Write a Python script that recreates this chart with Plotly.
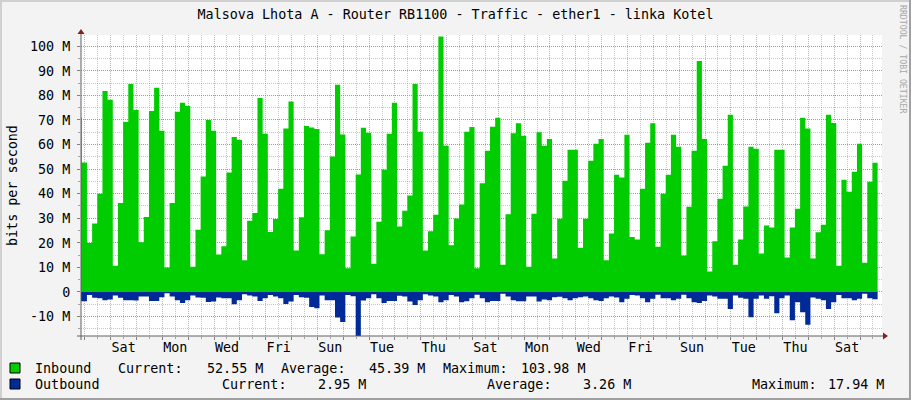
import plotly.graph_objects as go

# ---------------- data ----------------
TITLE = "Malsova Lhota A - Router RB1100 - Traffic - ether1 - linka Kotel"
Y_TITLE = "bits per second"
WATERMARK = "RRDTOOL / TOBI OETIKER"

# time axis in days, 0 = first Saturday 00:00 shown
T_START = -1.32      # start of first sample
T_STEP = 0.2         # sample length (days)
X_MIN, X_MAX = -1.15, 29.85
Y_MIN, Y_MAX = -17.94, 104.6

day_label_pos = [0.5 + 2 * i for i in range(15)]
day_labels = ["Sat", "Mon", "Wed", "Fri", "Sun", "Tue", "Thu",
              "Sat", "Mon", "Wed", "Fri", "Sun", "Tue", "Thu", "Sat"]

y_tick_vals = [-10, 0, 10, 20, 30, 40, 50, 60, 70, 80, 90, 100]
y_tick_text = ["-10 M", "0", "10 M", "20 M", "30 M", "40 M", "50 M",
               "60 M", "70 M", "80 M", "90 M", "100 M"]

# Mbit/s per sample
inbound = [71,
    52.7, 19.9, 27.9, 40, 81.8, 78.2, 10.7, 36.2, 69.2, 84.7,
    74.1, 20.2, 30.5, 73.7, 83.1, 65.6, 9.9, 36.2, 73.4, 77,
    75.7, 10.3, 25.3, 47, 70, 65.6, 15.2, 18.6, 48.6, 63.1,
    61.9, 12.9, 29, 32.1, 79, 64.4, 24.4, 29.7, 42, 66.5,
    77.5, 16.9, 30.4, 67.6, 66.9, 66.3, 15.3, 25.1, 55.1, 84.3,
    64.1, 9.6, 22.6, 47.8, 66.8, 64.8, 11.5, 28.6, 49.7, 64.4,
    77, 26.6, 33.1, 39.3, 84.7, 65.2, 16.9, 24.7, 31.4, 103.98,
    59.5, 19, 29.9, 35.6, 65.2, 67.1, 9.6, 44.2, 57.5, 67.2,
    70.9, 11.1, 31.6, 64.6, 68.7, 63.6, 10.3, 31.8, 65, 59.5,
    62.3, 13.6, 29.8, 45.3, 57.9, 57.9, 18, 29.8, 53.4, 60.3,
    62.3, 12.9, 23.8, 47.7, 46.6, 64, 22.4, 21.3, 42, 60.7,
    68.7, 18.4, 40, 47.7, 64, 59.1, 14.8, 34.7, 57.5, 94,
    62.3, 8.3, 20.6, 37.9, 51.4, 72.1, 11.1, 21.3, 34.8, 59.1,
    58.3, 15.6, 27, 26.2, 57.9, 57.9, 14, 26.2, 33.9, 70.9,
    66.5, 13.6, 24.3, 27.4, 72.1, 68.8, 10.7, 45.7, 40.8, 48.9,
    60.3, 11.9, 44.9, 52.55]

outbound = [3.8,
    3.8, 1.2, 2.4, 2.6, 3.4, 3.1, 1.5, 2.4, 3.4, 3.4,
    3.5, 1.9, 1.9, 3.7, 3.7, 2.2, 0.5, 1.9, 3.4, 4.5,
    3.4, 1.5, 2.3, 2.4, 4.1, 3.9, 2.3, 2.6, 2.6, 5.0,
    3.4, 0.9, 1.5, 1.9, 3.7, 2.6, 1.2, 1.9, 2.6, 4.9,
    3.9, 1.2, 2.2, 2.4, 6.1, 6.6, 1.5, 3.4, 3.4, 10.4,
    12.2, 1.2, 1.8, 17.94, 3.5, 2.6, 0.9, 2.6, 4.5, 3.7,
    3.7, 1.6, 1.9, 3.9, 5.3, 3.4, 0.9, 1.5, 1.9, 4.2,
    3.4, 1.2, 1.9, 4.2, 3.8, 2.6, 1.1, 2.6, 4.2, 3.7,
    3.7, 0.7, 1.9, 3.4, 3.8, 3.8, 1.9, 1.9, 3.9, 3.1,
    3.4, 2.2, 2.0, 2.6, 3.4, 2.6, 2.2, 1.9, 2.6, 3.4,
    3.7, 2.6, 1.9, 2.3, 4.2, 2.8, 1.2, 1.5, 2.6, 4.2,
    2.8, 1.1, 2.6, 2.6, 3.4, 2.8, 1.1, 2.6, 4.2, 4.5,
    3.7, 1.5, 1.9, 2.8, 2.8, 6.9, 1.5, 2.4, 2.8, 10.3,
    2.8, 1.5, 2.8, 1.8, 8.7, 2.6, 1.5, 11.5, 4.2, 8.3,
    13.4, 2.3, 2.8, 3.4, 6.9, 4.2, 1.2, 2.6, 2.6, 3.4,
    2.8, 0.7, 2.6, 2.95]

inbound_stats = [("Current:", 52.55), ("Average:", 45.39), ("Maximum:", 103.98)]
outbound_stats = [("Current:", 2.95), ("Average:", 3.26), ("Maximum:", 17.94)]

# ---------------- style ----------------
W, H = 911, 400
L, R, T, B = 81, 29, 35, 64
PW, PH = W - L - R, H - T - B
FONT = "DejaVu Sans Mono"
FS = 13.4
GREEN = "#00CC00"
BLUE = "#002A97"
MGRID = "rgba(224,80,80,0.55)"
GRID = "rgba(144,144,144,0.5)"


def px(x):
    return (x - L) / PW


def py(y):
    return (H - B - y) / PH


def times(n):
    return [T_START + T_STEP * k for k in range(n + 1)]


fig = go.Figure()
fig.add_trace(go.Scatter(
    x=times(len(inbound)), y=inbound + [inbound[-1]],
    mode="lines", line=dict(shape="hv", width=0, color=GREEN),
    fill="tozeroy", fillcolor=GREEN, name="Inbound", hoverinfo="skip"))
fig.add_trace(go.Scatter(
    x=times(len(outbound)), y=[-v for v in outbound] + [-outbound[-1]],
    xaxis="x2",
    mode="lines", line=dict(shape="hv", width=0, color=BLUE),
    fill="tozeroy", fillcolor=BLUE, name="Outbound", hoverinfo="skip"))

shapes = []
# outer shade border
shapes.append(dict(type="rect", xref="paper", yref="paper", x0=px(0), x1=px(W), y0=py(0), y1=py(2),
                   fillcolor="#D0D0D0", line_width=0, layer="above"))
shapes.append(dict(type="rect", xref="paper", yref="paper", x0=px(0), x1=px(2), y0=py(0), y1=py(H),
                   fillcolor="#D0D0D0", line_width=0, layer="above"))
shapes.append(dict(type="rect", xref="paper", yref="paper", x0=px(W - 2), x1=px(W), y0=py(0), y1=py(H),
                   fillcolor="#A0A0A0", line_width=0, layer="above"))
shapes.append(dict(type="rect", xref="paper", yref="paper", x0=px(0), x1=px(W), y0=py(H - 2), y1=py(H),
                   fillcolor="#A0A0A0", line_width=0, layer="above"))
# axes
shapes.append(dict(type="line", xref="paper", yref="paper", x0=px(77), x1=px(884), y0=py(336), y1=py(336),
                   line=dict(color="#606060", width=1), layer="above"))
shapes.append(dict(type="line", xref="paper", yref="paper", x0=px(81), x1=px(81), y0=py(340), y1=py(31),
                   line=dict(color="#606060", width=1), layer="above"))
# arrows
shapes.append(dict(type="path", xref="paper", yref="paper",
                   path=f"M {px(883)},{py(332.5)} L {px(888)},{py(336)} L {px(883)},{py(339.5)} Z",
                   fillcolor="#802020", line_width=0, layer="above"))
shapes.append(dict(type="path", xref="paper", yref="paper",
                   path=f"M {px(77.5)},{py(34)} L {px(81)},{py(29)} L {px(84.5)},{py(34)} Z",
                   fillcolor="#802020", line_width=0, layer="above"))
# legend swatches
for (yy, col) in [(368, GREEN), (384, BLUE)]:
    shapes.append(dict(type="rect", xref="paper", yref="paper",
                       x0=px(10), x1=px(20), y0=py(yy + 5), y1=py(yy - 5),
                       fillcolor=col, line=dict(color="#000000", width=1), layer="above"))

annotations = []
annotations.append(dict(text=Y_TITLE, xref="paper", yref="paper", x=px(12), y=py(186),
                        textangle=-90, showarrow=False, xanchor="center", yanchor="middle",
                        font=dict(family=FONT, size=FS, color="#000")))
annotations.append(dict(text=WATERMARK, xref="paper", yref="paper", x=px(903), y=py(59),
                        textangle=90, showarrow=False, xanchor="center", yanchor="middle",
                        font=dict(family=FONT, size=8.2, color="#A8A8A8")))

legend_rows = [
    ("Inbound", inbound_stats, 368, [116, 205, 279, 367, 441, 519]),
    ("Outbound", outbound_stats, 384, [220, 316, 485, 581, 750, 826]),
]
for name, stats, yy, xs in legend_rows:
    annotations.append(dict(text=name, xref="paper", yref="paper", x=px(33), y=py(yy),
                            showarrow=False, xanchor="left", yanchor="middle",
                            font=dict(family=FONT, size=FS, color="#000")))
    for i, (lab, val) in enumerate(stats):
        annotations.append(dict(text=lab, xref="paper", yref="paper", x=px(xs[2 * i]), y=py(yy),
                                showarrow=False, xanchor="left", yanchor="middle",
                                font=dict(family=FONT, size=FS, color="#000")))
        annotations.append(dict(text=f"{val:.2f} M", xref="paper", yref="paper", x=px(xs[2 * i + 1]), y=py(yy),
                                showarrow=False, xanchor="left", yanchor="middle",
                                font=dict(family=FONT, size=FS, color="#000")))

fig.update_layout(
    width=W, height=H,
    margin=dict(l=L, r=R, t=T, b=B, autoexpand=False),
    paper_bgcolor="#F3F3F3", plot_bgcolor="#FFFFFF",
    showlegend=False,
    title=dict(text=TITLE, x=0.5, xref="container", xanchor="center",
               y=1 - 14 / H, yref="container", yanchor="middle",
               font=dict(family=FONT, size=FS, color="#000")),
    xaxis=dict(range=[X_MIN, X_MAX], tickmode="linear", tick0=0, dtick=1,
               showticklabels=False, showgrid=True, gridcolor=MGRID, griddash="1px,1px", gridwidth=1,
               ticks="outside", ticklen=3, tickcolor="#808080", zeroline=False, showline=False,
               minor=dict(tickmode="linear", tick0=0, dtick=0.5, showgrid=True, gridcolor=GRID,
                          griddash="1px,1px", ticks="outside", ticklen=2, tickcolor="#A0A0A0")),
    xaxis2=dict(range=[X_MIN, X_MAX], overlaying="x", anchor="y", side="bottom",
                tickmode="array", tickvals=day_label_pos, ticktext=day_labels,
                showgrid=False, zeroline=False, showline=False, ticks="",
                ticklabelstandoff=2,
                tickfont=dict(family=FONT, size=FS, color="#000")),
    yaxis=dict(range=[Y_MIN, Y_MAX], tickmode="array", tickvals=y_tick_vals, ticktext=y_tick_text,
               showgrid=True, gridcolor=MGRID, griddash="1px,1px", zeroline=False, showline=False,
               ticks="outside", ticklen=3, tickcolor="#808080", ticklabelstandoff=4,
               tickfont=dict(family=FONT, size=FS, color="#000"),
               minor=dict(tickmode="linear", tick0=0, dtick=5, showgrid=True, gridcolor=GRID,
                          griddash="1px,1px", ticks="outside", ticklen=2, tickcolor="#A0A0A0")),
    shapes=shapes, annotations=annotations,
)

fig.write_html("out.html", config={"displayModeBar": False},
               post_script="document.body.style.margin='0px';")
